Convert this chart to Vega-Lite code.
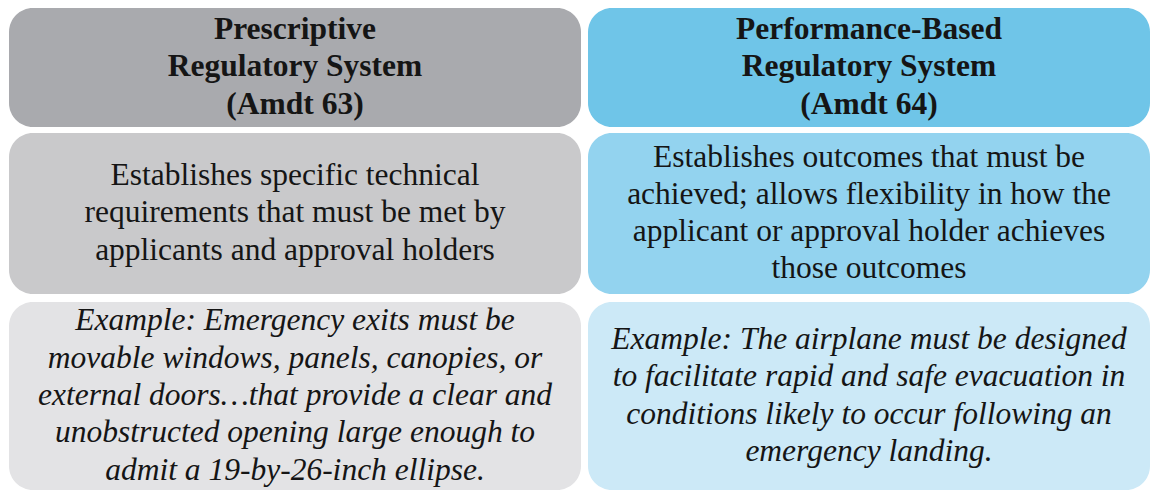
{
  "$schema": "https://vega.github.io/schema/vega-lite/v6.json",
  "width": 1153,
  "height": 493,
  "autosize": "none",
  "padding": 0,
  "background": "white",
  "config": {"view": {"stroke": null}},
  "data": {
    "values": [
      {"cell": "L1", "row": 1, "x0": 9, "x1": 581, "y0": 8, "y1": 127, "lines": ["Prescriptive", "Regulatory System", "(Amdt 63)"]},
      {"cell": "R1", "row": 1, "x0": 588, "x1": 1150, "y0": 8, "y1": 127, "lines": ["Performance-Based", "Regulatory System", "(Amdt 64)"]},
      {"cell": "L2", "row": 2, "x0": 9, "x1": 581, "y0": 133, "y1": 294, "lines": ["Establishes specific technical", "requirements that must be met by", "applicants and approval holders"]},
      {"cell": "R2", "row": 2, "x0": 588, "x1": 1150, "y0": 133, "y1": 294, "lines": ["Establishes outcomes that must be", "achieved; allows flexibility in how the", "applicant or approval holder achieves", "those outcomes"]},
      {"cell": "L3", "row": 3, "x0": 9, "x1": 581, "y0": 302, "y1": 490, "lines": ["Example: Emergency exits must be", "movable windows, panels, canopies, or", "external doors…that provide a clear and", "unobstructed opening large enough to", "admit a 19-by-26-inch ellipse."]},
      {"cell": "R3", "row": 3, "x0": 588, "x1": 1150, "y0": 302, "y1": 490, "lines": ["Example: The airplane must be designed", "to facilitate rapid and safe evacuation in", "conditions likely to occur following an", "emergency landing."]}
    ]
  },
  "transform": [
    {"calculate": "(datum.x0 + datum.x1) / 2", "as": "xc"},
    {"calculate": "(datum.y0 + datum.y1) / 2 - (length(datum.lines) - 1) / 2 * 37.3", "as": "yc"}
  ],
  "layer": [
    {
      "mark": {"type": "rect", "cornerRadius": 24},
      "encoding": {
        "x": {"field": "x0", "type": "quantitative", "scale": {"domain": [0, 1153], "nice": false, "zero": false}, "axis": null},
        "x2": {"field": "x1"},
        "y": {"field": "y0", "type": "quantitative", "scale": {"domain": [0, 493], "nice": false, "zero": false, "reverse": true}, "axis": null},
        "y2": {"field": "y1"},
        "color": {"field": "cell", "type": "nominal", "legend": null,
          "scale": {"domain": ["L1", "R1", "L2", "R2", "L3", "R3"], "range": ["#a9aaae", "#6fc5e8", "#c9c9cb", "#93d3ef", "#e3e3e5", "#cce9f7"]}}
      }
    },
    {
      "transform": [{"filter": "datum.row == 1"}],
      "mark": {"type": "text", "font": "Liberation Serif", "fontSize": 31.5, "fontWeight": "bold", "lineHeight": 37.3, "align": "center", "baseline": "middle", "color": "#151515"},
      "encoding": {
        "x": {"field": "xc", "type": "quantitative", "scale": {"domain": [0, 1153], "nice": false, "zero": false}, "axis": null},
        "y": {"field": "yc", "type": "quantitative", "scale": {"domain": [0, 493], "nice": false, "zero": false, "reverse": true}, "axis": null},
        "text": {"field": "lines"}
      }
    },
    {
      "transform": [{"filter": "datum.row == 2"}],
      "mark": {"type": "text", "font": "Liberation Serif", "fontSize": 31.5, "lineHeight": 37.3, "align": "center", "baseline": "middle", "color": "#151515"},
      "encoding": {
        "x": {"field": "xc", "type": "quantitative", "scale": {"domain": [0, 1153], "nice": false, "zero": false}, "axis": null},
        "y": {"field": "yc", "type": "quantitative", "scale": {"domain": [0, 493], "nice": false, "zero": false, "reverse": true}, "axis": null},
        "text": {"field": "lines"}
      }
    },
    {
      "transform": [{"filter": "datum.row == 3"}],
      "mark": {"type": "text", "font": "Liberation Serif", "fontSize": 31.5, "fontStyle": "italic", "lineHeight": 37.3, "align": "center", "baseline": "middle", "color": "#151515"},
      "encoding": {
        "x": {"field": "xc", "type": "quantitative", "scale": {"domain": [0, 1153], "nice": false, "zero": false}, "axis": null},
        "y": {"field": "yc", "type": "quantitative", "scale": {"domain": [0, 493], "nice": false, "zero": false, "reverse": true}, "axis": null},
        "text": {"field": "lines"}
      }
    }
  ]
}
